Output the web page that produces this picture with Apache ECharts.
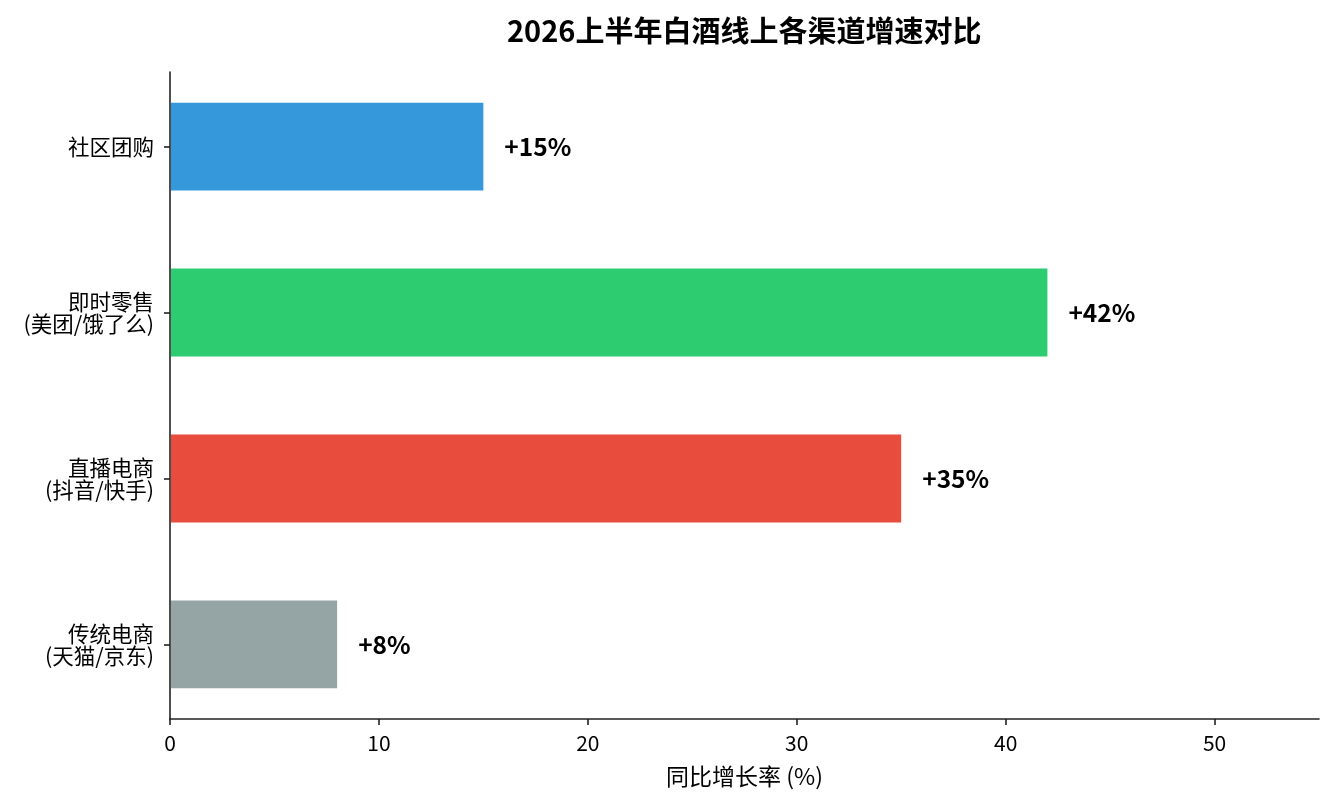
<!DOCTYPE html>
<html>
<head>
<meta charset="utf-8">
<title>2026上半年白酒线上各渠道增速对比</title>
<script src="https://cdn.jsdelivr.net/npm/echarts@6/dist/echarts.min.js"></script>
<style>
  html, body { margin: 0; padding: 0; background: #fff; }
  #chart { width: 1334px; height: 805px; }
</style>
</head>
<body>
<div id="chart"></div>
<script>
// 数据（自下而上）
var categories = ['传统电商\n(天猫/京东)', '直播电商\n(抖音/快手)', '即时零售\n(美团/饿了么)', '社区团购'];
var growth = [8, 35, 42, 15];
var barColors = ['#95a5a6', '#e74c3c', '#2ecc71', '#3498db'];
var xTicks = [0, 10, 20, 30, 40, 50];
var catTicks = [0, 1, 2, 3];

var font = '"Noto Sans CJK SC", "Noto Sans", sans-serif';

var seriesData = [];
growth.forEach(function (v, i) {
    seriesData.push([v, i]);
});

function renderBar(params, api) {
    var val = api.value(0);
    var cat = api.value(1);
    var start = api.coord([0, cat]);
    var end = api.coord([val, cat]);
    var h = api.size([0, 0.53])[1];
    return {
        type: 'rect',
        shape: { x: start[0] + 1, y: start[1] - h / 2, width: end[0] - start[0] - 1, height: h },
        style: { fill: barColors[params.dataIndex] },
        textContent: {
            style: {
                text: '+' + val + '%',
                fill: '#000',
                fontFamily: font,
                fontSize: 24.5,
                fontWeight: 'bold'
            }
        },
        textConfig: { position: 'right', distance: 21 }
    };
}

var chart = echarts.init(document.getElementById('chart'));
var option = {
    backgroundColor: '#fff',
    animation: false,
    title: {
        text: '2026上半年白酒线上各渠道增速对比',
        left: 502,
        top: 11,
        textStyle: { fontFamily: font, fontSize: 29, fontWeight: 'bold', color: '#000' }
    },
    grid: { left: 170, right: 15, top: 72, bottom: 86, containLabel: false },
    xAxis: {
        type: 'value',
        min: 0,
        max: 55,
        interval: 10,
        name: '同比增长率 (%)',
        nameLocation: 'middle',
        nameGap: 46,
        nameTextStyle: { fontFamily: font, fontSize: 23, color: '#000' },
        axisLine: { show: true, onZero: false, lineStyle: { color: '#222', width: 1.6 } },
        axisTick: { show: true, length: 6, customValues: xTicks, lineStyle: { color: '#222', width: 1.6 } },
        axisLabel: { customValues: xTicks, margin: 14, fontFamily: font, fontSize: 21, color: '#000' },
        splitLine: { show: false }
    },
    yAxis: {
        type: 'value',
        min: -0.45,
        max: 3.45,
        axisLine: { show: true, onZero: false, lineStyle: { color: '#222', width: 1.6 } },
        axisTick: { show: true, length: 6, customValues: catTicks, lineStyle: { color: '#222', width: 1.6 } },
        axisLabel: {
            customValues: catTicks,
            margin: 16,
            fontFamily: font,
            fontSize: 21.5,
            lineHeight: 22,
            color: '#000',
            align: 'right',
            formatter: function (v) { return categories[v]; }
        },
        splitLine: { show: false }
    },
    series: [{
        type: 'custom',
        renderItem: renderBar,
        encode: { x: 0, y: 1 },
        data: seriesData
    }]
};
chart.setOption(option);
</script>
</body>
</html>
